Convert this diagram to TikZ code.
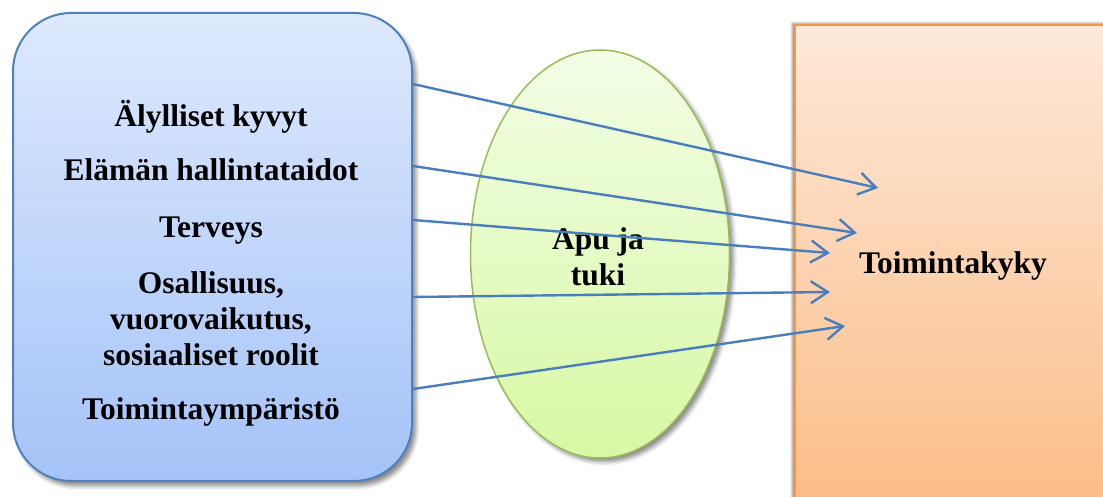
\documentclass[tikz,border=0pt]{standalone}
\usepackage{fontspec}
\setmainfont{Liberation Serif}
\usetikzlibrary{arrows.meta,shapes.geometric,shadows.blur}
\definecolor{arrowblue}{HTML}{4A7EBB}
\definecolor{boxblue}{HTML}{4F81BD}
\definecolor{bluetop}{HTML}{DEE9FD}
\definecolor{bluebot}{HTML}{A4C3F8}
\definecolor{greenedge}{HTML}{9BBB59}
\definecolor{greentop}{HTML}{F2FDE5}
\definecolor{greenbot}{HTML}{D8F8A4}
\definecolor{orangeedge}{HTML}{F79646}
\definecolor{orangetop}{HTML}{FEE9D9}
\definecolor{orangebot}{HTML}{FBBD88}
\begin{document}
\begin{tikzpicture}[x=1pt,y=-1pt,
  lbl/.style={font=\fontsize{31.5}{36}\selectfont\bfseries, align=center, anchor=base, inner sep=0pt},
  arr/.style={draw=arrowblue, line width=2.4pt, -{Straight Barb[length=17pt,width=22pt]}},
  ]
\useasboundingbox (0,0) rectangle (1103,497);
% right box
\node[rectangle, draw=orangeedge, line width=2pt, top color=orangetop, bottom color=orangebot,
      anchor=north west, minimum width=320pt, minimum height=480pt,
      blur shadow={shadow xshift=-3pt, shadow yshift=2pt, shadow blur radius=2pt, shadow opacity=40}] (func) at (794,24) {};
\node[lbl] (funclbl) at (953,273) {Toimintakyky};
% left box
\node[rectangle, draw=boxblue, line width=2pt, rounded corners=58pt, top color=bluetop, bottom color=bluebot,
      anchor=north west, minimum width=399pt, minimum height=468pt,
      blur shadow={shadow xshift=4pt, shadow yshift=-5pt, shadow blur radius=4pt, shadow opacity=45}] (left) at (12,12) {};
\node[lbl] (t1) at (211,127) {Älylliset kyvyt};
\node[lbl] (t2) at (211,181) {Elämän hallintataidot};
\node[lbl] (t3) at (211,237) {Terveys};
\node[lbl] (t4) at (211,365) {Osallisuus,\\vuorovaikutus,\\sosiaaliset roolit};
\node[lbl] (t5) at (211,419) {Toimintaympäristö};
% ellipse
\node[ellipse, draw=greenedge, line width=1.5pt, top color=greentop, bottom color=greenbot,
      minimum width=259pt, minimum height=408pt,
      blur shadow={shadow xshift=4pt, shadow yshift=-4pt, shadow blur radius=4pt, shadow opacity=45}] (help) at (600,254) {};
\node[lbl] (helplbl) at (598,285) {Apu ja\\tuki};
% arrows
\coordinate (a1) at (878,188);
\coordinate (a2) at (857,233);
\coordinate (a3) at (830,253);
\coordinate (a4) at (830,292);
\coordinate (a5) at (845,326);
\draw[arr] (left.east |- 0,84) -- (a1);
\draw[arr] (left.east |- 0,166) -- (a2);
\draw[arr] (left.east |- 0,220) -- (a3);
\draw[arr] (left.east |- 0,297) -- (a4);
\draw[arr] (left.east |- 0,389) -- (a5);
\end{tikzpicture}
\end{document}
